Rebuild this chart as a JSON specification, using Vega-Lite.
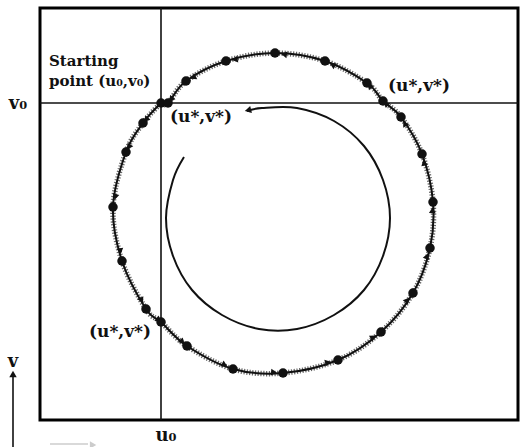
{
  "$schema": "https://vega.github.io/schema/vega-lite/v6.json",
  "width": 478,
  "height": 412,
  "autosize": "none",
  "padding": {"left": 40, "top": 8, "right": 2, "bottom": 27},
  "background": "white",
  "config": {"view": {"stroke": "black", "strokeWidth": 3}},
  "datasets": {
    "path": [
      {"i": 1, "u": 121, "v": 317}, {"i": 2, "u": 103, "v": 297}, {"i": 3, "u": 86, "v": 268},
      {"i": 4, "u": 73, "v": 213}, {"i": 5, "u": 82, "v": 159}, {"i": 6, "u": 106, "v": 111},
      {"i": 7, "u": 121, "v": 98}, {"i": 8, "u": 147, "v": 74}, {"i": 9, "u": 193, "v": 51},
      {"i": 10, "u": 243, "v": 47}, {"i": 11, "u": 298, "v": 60}, {"i": 12, "u": 341, "v": 88},
      {"i": 13, "u": 373, "v": 127}, {"i": 14, "u": 390, "v": 172}, {"i": 15, "u": 393, "v": 218},
      {"i": 16, "u": 382, "v": 266}, {"i": 17, "u": 361, "v": 303}, {"i": 18, "u": 343, "v": 319},
      {"i": 19, "u": 327, "v": 337}, {"i": 20, "u": 285, "v": 359}, {"i": 21, "u": 235, "v": 367},
      {"i": 22, "u": 186, "v": 359}, {"i": 23, "u": 146, "v": 339}, {"i": 24, "u": 128, "v": 317},
      {"i": 25, "u": 121, "v": 317}
    ],
    "arrows": [
      {"u": 106.6, "v": 301, "dir": -138}, {"u": 89.4, "v": 273.8, "dir": -149.6},
      {"u": 75.6, "v": 224, "dir": -166.7}, {"u": 80.2, "v": 169.8, "dir": 170.5},
      {"u": 101.2, "v": 120.6, "dir": 153.4}, {"u": 118, "v": 100.6, "dir": 130.9},
      {"u": 141.8, "v": 78.8, "dir": 132.7}, {"u": 183.8, "v": 55.6, "dir": 116.6},
      {"u": 233, "v": 47.8, "dir": 94.6}, {"u": 287, "v": 57.4, "dir": 76.7},
      {"u": 332.4, "v": 82.4, "dir": 56.9}, {"u": 366.6, "v": 119.2, "dir": 39.4},
      {"u": 386.6, "v": 163, "dir": 20.7}, {"u": 392.4, "v": 208.8, "dir": 3.7},
      {"u": 384.2, "v": 256.4, "dir": -12.9}, {"u": 365.2, "v": 295.6, "dir": -29.6},
      {"u": 346.6, "v": 315.8, "dir": -48.4}, {"u": 330.2, "v": 333.4, "dir": -41.6},
      {"u": 293.4, "v": 354.6, "dir": -62.4}, {"u": 245, "v": 365.4, "dir": -80.9},
      {"u": 195.8, "v": 360.6, "dir": -99.3}, {"u": 154, "v": 343, "dir": -116.6},
      {"u": 131.6, "v": 321.4, "dir": -140.7}
    ],
    "inner": [
      {"o": 1, "u": 144, "v": 263}, {"o": 2, "u": 133, "v": 240}, {"o": 3, "u": 126, "v": 202},
      {"o": 4, "u": 133, "v": 164}, {"o": 5, "u": 152, "v": 130}, {"o": 6, "u": 182, "v": 105},
      {"o": 7, "u": 219, "v": 91}, {"o": 8, "u": 257, "v": 91}, {"o": 9, "u": 294, "v": 105},
      {"o": 10, "u": 324, "v": 130}, {"o": 11, "u": 343, "v": 164}, {"o": 12, "u": 350, "v": 202},
      {"o": 13, "u": 343, "v": 240}, {"o": 14, "u": 324, "v": 274}, {"o": 15, "u": 294, "v": 299},
      {"o": 16, "u": 257, "v": 312}, {"o": 17, "u": 222, "v": 312}, {"o": 18, "u": 207, "v": 309}
    ],
    "heads": [
      {"u": 209, "v": 310, "dir": -104, "tone": "dark"},
      {"u": -27, "v": 45, "dir": 0, "tone": "dark"},
      {"u": 52, "v": -25, "dir": 90, "tone": "faint"}
    ],
    "guides": [
      {"u": 121, "v": 0, "u2": 121, "v2": 412, "tone": "dark"},
      {"u": 0, "v": 317, "u2": 478, "v2": 317, "tone": "dark"},
      {"u": -27, "v": -27, "u2": -27, "v2": 46, "tone": "dark"},
      {"u": 10, "v": -24, "u2": 48, "v2": -24, "tone": "faint"}
    ],
    "leftlabels": [
      {"u": 9, "v": 354, "t": "Starting"},
      {"u": 9, "v": 334, "t": "point (u₀,v₀)"}
    ],
    "labels": [
      {"u": 161, "v": 303, "t": "(u*,v*)", "sz": 17},
      {"u": 379, "v": 334, "t": "(u*,v*)", "sz": 17},
      {"u": 80, "v": 88, "t": "(u*,v*)", "sz": 17},
      {"u": -22, "v": 316, "t": "v₀", "sz": 18},
      {"u": 126, "v": -16, "t": "u₀", "sz": 18},
      {"u": -27, "v": 58, "t": "v", "sz": 18}
    ]
  },
  "encoding": {
    "x": {"field": "u", "type": "quantitative", "scale": {"domain": [0, 478], "nice": false, "zero": false}, "axis": null},
    "y": {"field": "v", "type": "quantitative", "scale": {"domain": [0, 412], "nice": false, "zero": false}, "axis": null}
  },
  "layer": [
    {
      "data": {"name": "guides"},
      "mark": {"type": "rule", "strokeWidth": 1.6},
      "encoding": {
        "x2": {"field": "u2"},
        "y2": {"field": "v2"},
        "color": {"field": "tone", "type": "nominal", "scale": {"domain": ["dark", "faint"], "range": ["#111111", "#cccccc"]}, "legend": null}
      }
    },
    {
      "data": {"name": "path"},
      "mark": {"type": "line", "interpolate": "cardinal", "strokeWidth": 5.5, "strokeDash": [1.2, 1.6], "color": "#666666"},
      "encoding": {"order": {"field": "i", "type": "quantitative"}}
    },
    {
      "data": {"name": "path"},
      "mark": {"type": "line", "interpolate": "cardinal", "strokeWidth": 2, "color": "#111111"},
      "encoding": {"order": {"field": "i", "type": "quantitative"}}
    },
    {
      "data": {"name": "inner"},
      "mark": {"type": "line", "interpolate": "cardinal", "strokeWidth": 2, "color": "#111111"},
      "encoding": {"order": {"field": "o", "type": "quantitative"}}
    },
    {
      "data": {"name": "arrows"},
      "mark": {"type": "point", "shape": "triangle", "filled": true, "size": 45, "color": "#111111", "opacity": 1},
      "encoding": {"angle": {"field": "dir", "type": "quantitative", "scale": null}}
    },
    {
      "data": {"name": "heads"},
      "mark": {"type": "point", "shape": "triangle", "filled": true, "size": 55, "opacity": 1},
      "encoding": {
        "angle": {"field": "dir", "type": "quantitative", "scale": null},
        "color": {"field": "tone", "type": "nominal", "scale": {"domain": ["dark", "faint"], "range": ["#111111", "#cccccc"]}, "legend": null}
      }
    },
    {
      "data": {"name": "path"},
      "transform": [{"filter": "datum.i < 25"}],
      "mark": {"type": "point", "shape": "circle", "filled": true, "size": 90, "color": "#111111", "opacity": 1}
    },
    {
      "data": {"name": "leftlabels"},
      "mark": {"type": "text", "font": "DejaVu Serif", "fontWeight": "bold", "fontSize": 15, "align": "left", "baseline": "alphabetic", "color": "#111111"},
      "encoding": {"text": {"field": "t"}}
    },
    {
      "data": {"name": "labels"},
      "mark": {"type": "text", "font": "DejaVu Serif", "fontWeight": "bold", "align": "center", "baseline": "middle", "color": "#111111"},
      "encoding": {
        "text": {"field": "t"},
        "size": {"field": "sz", "type": "quantitative", "scale": null}
      }
    }
  ]
}
